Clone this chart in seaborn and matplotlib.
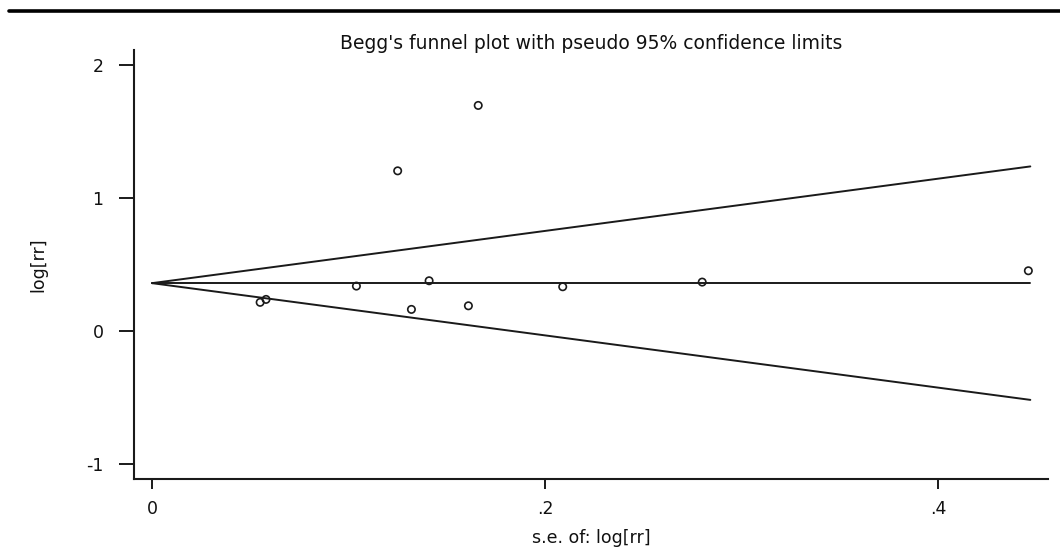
import numpy as np
import pandas as pd
import matplotlib
matplotlib.use("Agg")
import matplotlib.pyplot as plt
import seaborn as sns

# Study values
se_logrr = [0.055, 0.058, 0.104, 0.125, 0.132, 0.141, 0.161, 0.166, 0.209, 0.280, 0.446]
logrr = [0.216, 0.238, 0.338, 1.203, 0.163, 0.378, 0.190, 1.694, 0.333, 0.368, 0.453]

# Pooled estimate and range of the pseudo 95% limits
theta = 0.36
se_range = [0.0, 0.447]

title = "Begg's funnel plot with pseudo 95% confidence limits"
x_ticks = [0, 0.2, 0.4]
x_ticklabels = ["0", ".2", ".4"]
y_ticks = [-1, 0, 1, 2]
y_ticklabels = ["-1", "0", "1", "2"]

sns.set_theme(style="white")
plt.rcParams['font.family'] = ['DejaVu Sans']
plt.rcParams['text.color'] = '#111111'
plt.rcParams['axes.labelcolor'] = '#111111'
plt.rcParams['xtick.color'] = '#111111'
plt.rcParams['ytick.color'] = '#111111'

studies = pd.DataFrame({'se': se_logrr, 'logrr': logrr})
se_arr = np.array(se_range)
funnel = pd.DataFrame({
    'se': np.concatenate([se_arr, se_arr, se_arr]),
    'y': np.concatenate([theta + 1.96 * se_arr, np.full(2, theta), theta - 1.96 * se_arr]),
    'line': ['upper'] * 2 + ['mid'] * 2 + ['lower'] * 2,
})

fig = plt.figure(figsize=(10.6, 5.5), dpi=100)
ax = fig.add_axes([134 / 1060, 1 - 479 / 550, (1048 - 134) / 1060, (479 - 50) / 550])

for name, grp in funnel.groupby('line'):
    sns.lineplot(data=grp, x='se', y='y', ax=ax, color='#1a1a1a', linewidth=1.4,
                 estimator=None, legend=False)

sns.scatterplot(data=studies, x='se', y='logrr', ax=ax, marker='o', s=28,
                facecolor='none', edgecolor='#1a1a1a', linewidth=1.2, zorder=3)

ax.set_xlim(-0.0092, 0.456)
ax.set_ylim(-1.11, 2.11)
ax.set_xticks(x_ticks)
ax.set_xticklabels(x_ticklabels)
ax.set_yticks(y_ticks)
ax.set_yticklabels(y_ticklabels)
ax.tick_params(axis='x', direction='out', length=7, width=1.4, color='#1a1a1a',
               labelsize=12.5, pad=8, bottom=True)
ax.tick_params(axis='y', direction='out', length=11, width=1.4, color='#1a1a1a',
               labelsize=12.5, pad=11, left=True)

for side in ['top', 'right']:
    ax.spines[side].set_visible(False)
for side in ['left', 'bottom']:
    ax.spines[side].set_color('#1a1a1a')
    ax.spines[side].set_linewidth(1.5)

ax.set_xlabel("s.e. of: log[rr]", fontsize=12.5, labelpad=8)
ax.set_ylabel("log[rr]", fontsize=12.5, labelpad=28)
ax.set_title(title, fontsize=13.5, pad=1)

# black rule across the top of the figure
fig.add_artist(plt.Line2D([9 / 1060, 1.0], [1 - 11 / 550, 1 - 11 / 550],
                          transform=fig.transFigure, color='black', linewidth=2.6))

fig.savefig("out.png", dpi=100)
